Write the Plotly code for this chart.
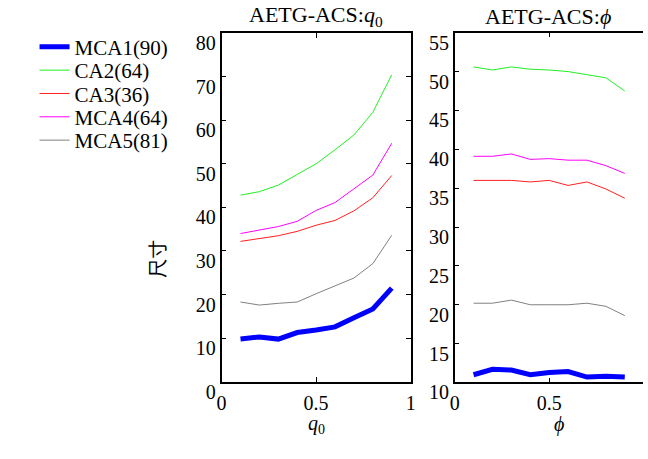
import plotly.graph_objects as go

# ---- data ----
x_vals = [0.1, 0.2, 0.3, 0.4, 0.5, 0.6, 0.7, 0.8, 0.9]
series_names = ["MCA1(90)", "CA2(64)", "CA3(36)", "MCA4(64)", "MCA5(81)"]

# left panel: AETG-ACS : q0
q0_mca1 = [9.8, 10.3, 9.8, 11.3, 11.9, 12.6, 14.7, 16.7, 21.5]
q0_ca2 = [42.8, 43.6, 45.1, 47.5, 50.0, 53.2, 56.6, 61.8, 70.4]
q0_ca3 = [32.2, 32.9, 33.5, 34.5, 35.9, 37.0, 39.2, 42.2, 47.3]
q0_mca4 = [34.0, 34.8, 35.6, 36.8, 39.3, 41.1, 44.2, 47.4, 54.7]
q0_mca5 = [18.3, 17.6, 18.0, 18.3, 20.2, 22.0, 23.8, 27.1, 33.6]

# right panel: AETG-ACS : phi
phi_mca1 = [11.0, 11.7, 11.6, 11.0, 11.3, 11.4, 10.7, 10.8, 10.7]
phi_ca2 = [50.6, 50.2, 50.6, 50.3, 50.2, 50.0, 49.6, 49.2, 47.5]
phi_ca3 = [36.0, 36.0, 36.0, 35.8, 36.0, 35.35, 35.8, 34.9, 33.7]
phi_mca4 = [39.1, 39.1, 39.4, 38.7, 38.8, 38.6, 38.6, 37.9, 36.9]
phi_mca5 = [20.2, 20.2, 20.6, 20.0, 20.0, 20.0, 20.2, 19.8, 18.6]

left_yticks = [0, 10, 20, 30, 40, 50, 60, 70, 80]
right_yticks = [10, 15, 20, 25, 30, 35, 40, 45, 50, 55]

colors = ["#0000ff", "#22ee22", "#ff2020", "#ff00ff", "#808080"]
widths = [5, 1, 1, 1, 1]

left_data = [q0_mca1, q0_ca2, q0_ca3, q0_mca4, q0_mca5]
right_data = [phi_mca1, phi_ca2, phi_ca3, phi_mca4, phi_mca5]

SERIF = "Liberation Serif"
legend_ids = ["legend", "legend2", "legend3", "legend4", "legend5"]
legend_centers_px = [48.5, 73, 97.5, 122, 146.5]

fig = go.Figure()
for i, name in enumerate(series_names):
    fig.add_trace(go.Scatter(x=x_vals, y=left_data[i], mode="lines", name=name,
                             line=dict(color=colors[i], width=widths[i]),
                             xaxis="x", yaxis="y", showlegend=True, legend=legend_ids[i]))
for i, name in enumerate(series_names):
    fig.add_trace(go.Scatter(x=x_vals, y=right_data[i], mode="lines", name=name,
                             line=dict(color=colors[i], width=widths[i]),
                             xaxis="x2", yaxis="y2", showlegend=False))

axis_common = dict(showline=True, linecolor="black", linewidth=1.5,
                   ticks="inside", ticklen=5, tickwidth=1, tickcolor="black",
                   showgrid=False, zeroline=False,
                   tickfont=dict(family=SERIF, size=20, color="black"))

layout_kw = dict(
    width=648, height=459, autosize=False,
    margin=dict(l=0, r=0, t=0, b=0),
    font=dict(family=SERIF, color="black"),
    paper_bgcolor="white", plot_bgcolor="white",
    xaxis=dict(domain=[220 / 648, 412 / 648], range=[0, 1], tickvals=[0, 0.5, 1],
               ticktext=["0", "0.5", "1"], anchor="y", mirror="ticks", ticklabelstandoff=2,
               **axis_common),
    yaxis=dict(domain=[1 - 400 / 459, 1 - 33.5 / 459], range=[0, 80], tickvals=left_yticks,
               anchor="x", ticklabelshift=10, mirror="ticks", **axis_common),
    xaxis2=dict(domain=[456.7 / 648, 1.0], range=[0, 0.9964], tickvals=[0, 0.5],
                ticktext=["0", "0.5"], anchor="y2", mirror="ticks", ticklabelstandoff=2,
                **axis_common),
    yaxis2=dict(domain=[1 - 400.7 / 459, 1 - 33.3 / 459], range=[10, 55], tickvals=right_yticks,
                anchor="x2", ticklabelshift=10, mirror=False, **axis_common),
    # right-side ticks of the right panel (its right border lies beyond the picture edge)
    yaxis3=dict(overlaying="y2", side="right", anchor="x2", range=[10, 55], tickvals=right_yticks,
                showline=False, ticks="inside", ticklen=5, tickwidth=1, tickcolor="black",
                showticklabels=False, showgrid=False, zeroline=False),
    showlegend=True,
)
for i, lid in enumerate(legend_ids):
    layout_kw[lid] = dict(x=30 / 648, y=1 - legend_centers_px[i] / 459, xanchor="left", yanchor="middle",
                          font=dict(family=SERIF, size=21, color="black"),
                          bgcolor="rgba(0,0,0,0)", borderwidth=0)
fig.update_layout(**layout_kw)

annotations = [
    dict(text="AETG-ACS:<i>q</i><sub>0</sub>", x=316 / 648, y=1 - 16 / 459, xref="paper", yref="paper",
         showarrow=False, font=dict(family=SERIF, size=22, color="black"), xanchor="center", yanchor="middle"),
    dict(text="AETG-ACS:<i>ϕ</i>", x=552 / 648, y=1 - 16 / 459, xref="paper", yref="paper",
         showarrow=False, font=dict(family=SERIF, size=22, color="black"), xanchor="center", yanchor="middle"),
    dict(text="<i>q</i><sub>0</sub>", x=316 / 648, y=1 - 445 / 459, xref="paper", yref="paper",
         showarrow=False, font=dict(family=SERIF, size=20, color="black"), xanchor="center", yanchor="middle"),
    dict(text="<i>ϕ</i>", x=563 / 648, y=1 - 445 / 459, xref="paper", yref="paper",
         showarrow=False, font=dict(family=SERIF, size=20, color="black"), xanchor="center", yanchor="middle"),
    dict(text="尺寸", x=153 / 648, y=1 - 271 / 459, xref="paper", yref="paper", textangle=-90,
         showarrow=False, font=dict(family="Noto Sans CJK SC", size=19, color="black"),
         xanchor="center", yanchor="middle"),
]
fig.update_layout(annotations=annotations)

fig.write_html("out.html", config={"displayModeBar": False},
               post_script="document.body.style.margin='0';")
